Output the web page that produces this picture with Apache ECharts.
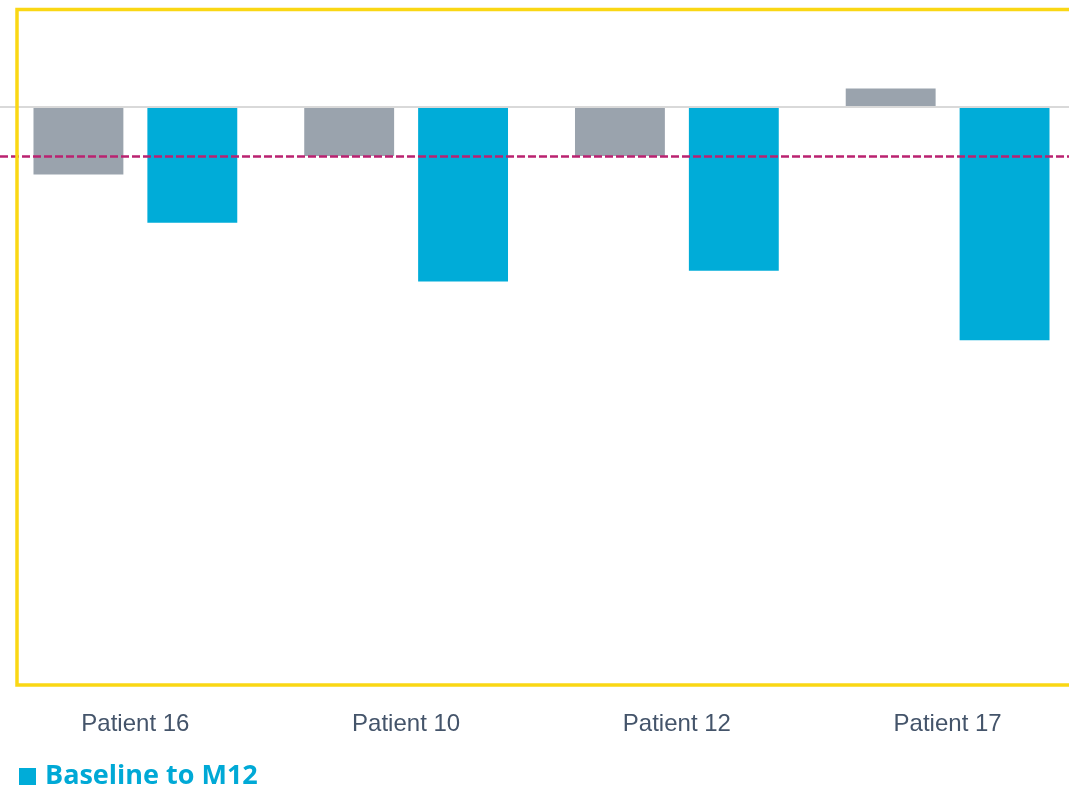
<!DOCTYPE html>
<html>
<head>
<meta charset="utf-8">
<script src="https://cdn.jsdelivr.net/npm/echarts@6/dist/echarts.min.js"></script>
<style>
  html, body { margin: 0; padding: 0; background: #ffffff; overflow: hidden; }
  #chart { width: 1083px; height: 788px; }
</style>
</head>
<body>
<div id="chart"></div>
<script>
// Change per patient (%)
const patients = ['Patient 16', 'Patient 10', 'Patient 12', 'Patient 17'];
const baselineToM6 = [-6.9, -5.0, -5.0, 1.9];
const baselineToM12 = [-11.8, -17.8, -16.7, -23.8];
const thresholdValue = -5;
const yRange = [-60, 10];

const chart = echarts.init(document.getElementById('chart'), null, { renderer: 'canvas' });

chart.setOption({
  animation: false,
  backgroundColor: '#ffffff',
  grid: { left: 0, right: 0, top: 9, bottom: 93 },
  legend: {
    data: ['Baseline to M12'],
    left: 19,
    top: 763,
    padding: 0,
    itemWidth: 17,
    itemHeight: 17,
    itemGap: 8,
    icon: 'rect',
    textStyle: { fontFamily: 'Open Sans', fontWeight: 'bold', fontSize: 27, color: '#00a9d6', padding: [3, 0, 0, 4] }
  },
  xAxis: {
    type: 'category',
    data: patients,
    axisLine: { show: false, onZero: false },
    axisTick: { show: false },
    axisLabel: { margin: 17, fontFamily: 'Liberation Sans', fontSize: 24, color: '#44546a' }
  },
  yAxis: {
    type: 'value',
    min: yRange[0],
    max: yRange[1],
    show: false,
    splitLine: { show: false }
  },
  graphic: [{
    type: 'rect',
    shape: { x: 17, y: 9.5, width: 1100, height: 675.5 },
    style: { fill: 'none', stroke: '#fad714', lineWidth: 3.5 },
    z: 10
  }],
  series: [
    {
      name: 'Baseline to M6',
      type: 'bar',
      data: baselineToM6,
      barWidth: '33.2%',
      barGap: '26.7%',
      itemStyle: { color: '#9aa3ad' },
      z: 2
    },
    {
      name: 'Baseline to M12',
      type: 'bar',
      data: baselineToM12,
      barWidth: '33.2%',
      itemStyle: { color: '#00acd8' },
      z: 2,
      markLine: {
        silent: true,
        symbol: 'none',
        label: { show: false },
        z: 5,
        data: [
          { yAxis: 0, lineStyle: { color: '#d9d9d9', width: 2, type: 'solid' } },
          { yAxis: thresholdValue, lineStyle: { color: '#ba2270', width: 2.5, type: [8, 3] } }
        ]
      }
    }
  ]
});
</script>
</body>
</html>
